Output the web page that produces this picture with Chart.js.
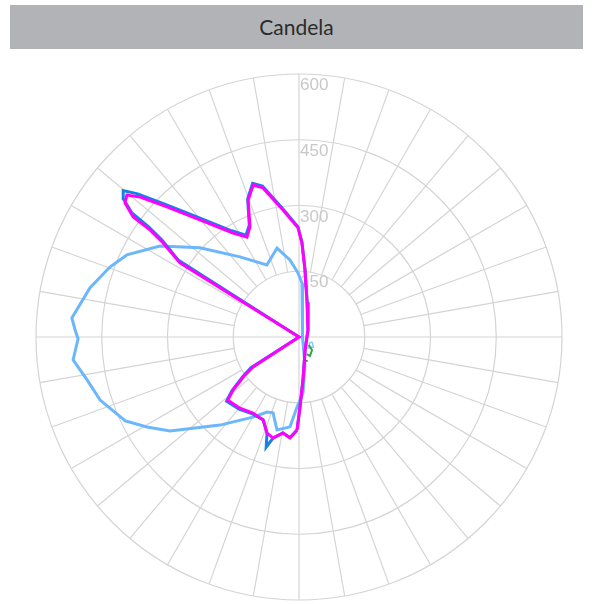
<!DOCTYPE html>
<html>
<head>
<meta charset="utf-8">
<script src="https://cdn.jsdelivr.net/npm/chart.js@4.4.0/dist/chart.umd.min.js"></script>
<style>
  body { margin: 0; background: #fff; }
  .bar {
    position: absolute; left: 10px; top: 5px; width: 573px; height: 44px;
    background: #b2b3b6; color: #2b2b2b; text-align: center;
    font: 21px Lato, 'Open Sans', sans-serif; line-height: 44px;
  }
  .wrap { position: absolute; left: 0; top: 60px; width: 593px; height: 544px; }
</style>
</head>
<body>
<div class="bar">Candela</div>
<div class="wrap"><canvas id="polar"></canvas></div>
<script>
// angles in degrees: 0 = straight down, 90 = left, 180 = up, 270 = right
const ringValues = [150, 300, 450, 600];

const magentaAngles = [1.2, 5.1, 9.5, 14.4, 18.4, 23.4, 31.2, 39.7, 48.4, 51.2, 54.9, 56.9, 90,
  121.9, 124.7, 125.7, 125.9, 127.6, 129.5, 131.4, 134.6, 139.8, 147.6, 152.5, 156, 159.6,
  163.2, 166.4, 172.8, 179.5, 181.8, 185.1, 193.2, 232, 335, 354.7, 359.2];
const magentaValues = [212, 231, 222, 238, 231, 206, 203, 211, 217, 193, 151, 125, 0,
  320, 377, 418, 467, 501, 509, 483, 423, 350, 281, 257, 275, 333,
  362, 350, 292, 249, 214, 153, 80, 26, 33, 98, 160];

const blueAngles = [1.2, 5.1, 9.5, 14.4, 16.6, 18.4, 23.4, 31.2, 39.7, 48.4, 51.2, 54.9, 57.5, 90,
  122.5, 125.3, 126.2, 126.6, 128.2, 129.8, 131.6, 134.7, 139.9, 147.6, 152.5, 156, 159.6,
  163.2, 166.4, 172.8, 179.5, 181.8, 185.1, 193.2, 232, 335, 354.7, 359.2];
const blueValues = [212, 231, 222, 238, 262, 231, 206, 205, 214, 221, 197, 156, 130, 0,
  327, 383, 425, 475, 510, 522, 492, 431, 357, 287, 262, 279, 336,
  366, 354, 295, 251, 216, 155, 82, 26, 33, 98, 160];

const lightAngles = [1.6, 5.7, 13.3, 18.9, 23.1, 29.9, 41.9, 53.9, 59.4, 64.2, 72.4, 78.5, 84.2,
  89.5, 91.8, 94.8, 103.2, 110.3, 115.5, 123.2, 132, 143.6, 156, 166.1, 173.3, 179.1, 183.2,
  188.4, 270, 347.9, 355.9];
const lightValues = [160, 206, 218, 183, 186, 211, 270, 364, 403, 440, 476, 493, 518,
  504, 511, 520, 490, 460, 435, 379, 304, 227, 180, 209, 177, 146, 123,
  62, 7, 65, 128];

const greenAngles = [309, 315, 330, 335];
const greenValues = [29, 42, 50, 43];

const smallRingAngles = [290, 305, 320, 300, 290];
const smallRingValues = [32, 40, 33, 28, 32];

const darkAngles = [340, 346];
const darkValues = [58, 56];

function toPoints(angles, values, closed) {
  const pts = angles.map((a, i) => {
    const t = a * Math.PI / 180;
    return { x: -values[i] * Math.sin(t), y: -values[i] * Math.cos(t) };
  });
  if (closed) pts.push(pts[0]);
  return pts;
}

const polarGrid = {
  id: 'polarGrid',
  beforeDatasetsDraw(chart) {
    const { ctx, scales: { x, y } } = chart;
    const cx = x.getPixelForValue(0), cy = y.getPixelForValue(0);
    const k = x.getPixelForValue(1) - cx;
    const rMax = ringValues[ringValues.length - 1] * k;
    ctx.save();
    ctx.strokeStyle = '#d4d4d4';
    ctx.lineWidth = 1.2;
    ringValues.forEach(v => {
      ctx.beginPath();
      ctx.arc(cx, cy, v * k, 0, Math.PI * 2);
      ctx.stroke();
    });
    for (let a = 0; a < 360; a += 10) {
      const t = a * Math.PI / 180;
      const r0 = a % 90 === 0 ? 0 : ringValues[0] * k;
      ctx.beginPath();
      ctx.moveTo(cx + r0 * Math.sin(t), cy + r0 * Math.cos(t));
      ctx.lineTo(cx + rMax * Math.sin(t), cy + rMax * Math.cos(t));
      ctx.stroke();
    }
    ctx.fillStyle = '#c8c8c8';
    ctx.font = "17px 'Liberation Sans Narrow', 'Arial Narrow', sans-serif";
    ctx.textBaseline = 'top';
    ringValues.forEach(v => ctx.fillText(String(v), cx + 1, cy - v * k + 3));
    ctx.restore();
  }
};

new Chart(document.getElementById('polar'), {
  type: 'scatter',
  data: {
    datasets: [
      { data: toPoints(magentaAngles, magentaValues, true), borderColor: '#ff00ff' },
      { data: toPoints(blueAngles, blueValues, true), borderColor: '#1480e8' },
      { data: toPoints(lightAngles, lightValues, true), borderColor: '#6cb6fb' },
      { data: toPoints(greenAngles, greenValues, false), borderColor: '#2aa840', borderWidth: 2 },
      { data: toPoints(smallRingAngles, smallRingValues, false), borderColor: '#8cc8fb', borderWidth: 1.5 },
      { data: toPoints(darkAngles, darkValues, false), borderColor: '#444444', borderWidth: 1.5 }
    ]
  },
  options: {
    responsive: true,
    maintainAspectRatio: false,
    animation: false,
    showLine: true,
    layout: { padding: { left: 36, right: 31, top: 14, bottom: 4 } },
    elements: {
      point: { radius: 0, hoverRadius: 0 },
      line: { borderWidth: 3, tension: 0, fill: false }
    },
    scales: {
      x: { type: 'linear', min: -600, max: 600, display: false },
      y: { type: 'linear', min: -600, max: 600, display: false }
    },
    plugins: { legend: { display: false }, tooltip: { enabled: false } }
  },
  plugins: [polarGrid]
});
</script>
</body>
</html>
